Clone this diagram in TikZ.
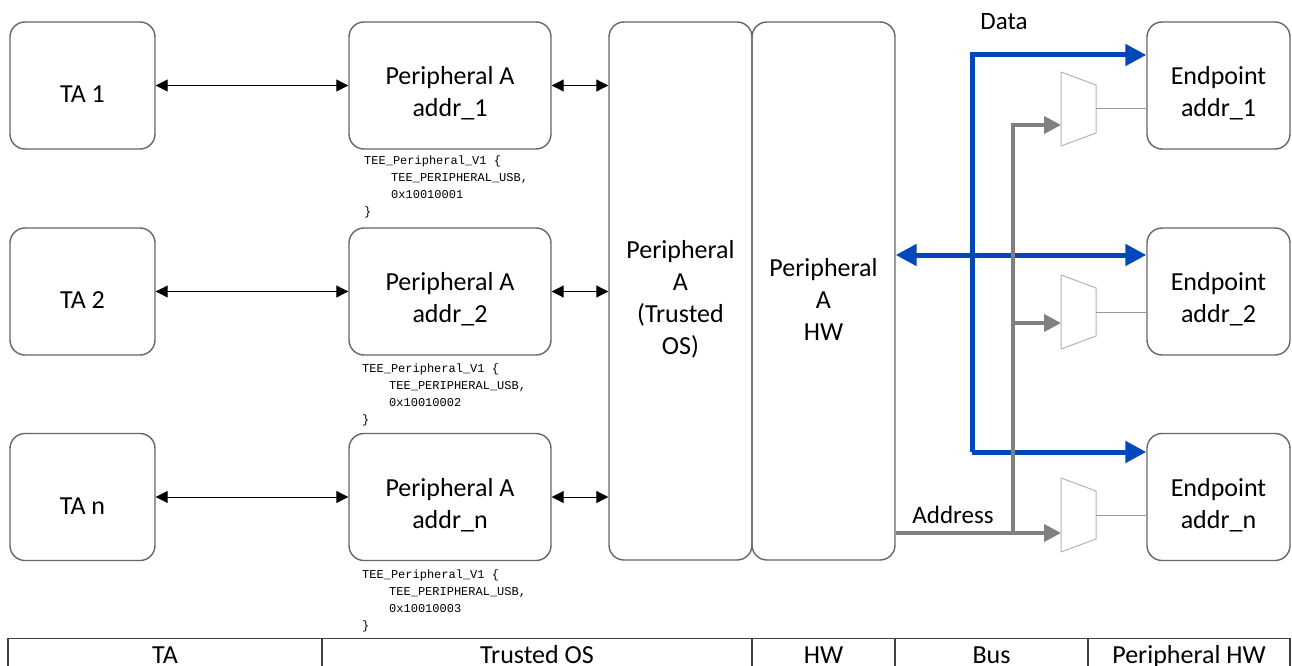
\documentclass[tikz,border=0pt]{standalone}
\usepackage{fontspec}
\setmainfont{Carlito}
\newfontfamily\codefont{Liberation Mono}
\usetikzlibrary{arrows.meta}
\definecolor{boxgray}{HTML}{666666}
\definecolor{databl}{HTML}{0047BB}
\definecolor{addrgray}{HTML}{808080}
\definecolor{muxgray}{HTML}{B4B4B4}
\newcommand\dnstrut{\rule{0pt}{34pt}}
\begin{document}
\begin{tikzpicture}[x=1pt,y=-1pt,
  box/.style={draw=boxgray, line width=1.4pt, rounded corners=15pt, align=center,
    inner sep=0pt, font=\fontsize{26}{32}\selectfont},
  smallbox/.style={box, minimum height=127pt},
  codeblk/.style={anchor=north west, inner sep=0pt, align=left,
    font=\codefont\fontsize{12}{16.8}\selectfont},
  biarrow/.style={line width=1pt, {Triangle[length=12pt,width=12pt]}-{Triangle[length=12pt,width=12pt]}},
  datatip/.style={-{Triangle[length=21pt,width=21pt]}},
  databus/.style={draw=databl, line width=5pt},
  addrbus/.style={draw=addrgray, line width=4pt},
  addrtip/.style={-{Triangle[length=17pt,width=17pt]}},
  muxline/.style={draw=muxgray, line width=1pt},
  buslabel/.style={font=\fontsize{25}{30}\selectfont, inner sep=0pt},
  tbltext/.style={font=\fontsize{26}{30}\selectfont, anchor=base, inner sep=0pt},
  tblline/.style={draw=black!75, line width=1.4pt},
  mux/.pic={
    \draw[muxline] (-17.5,-37) -- (17.5,-24) -- (17.5,24) -- (-17.5,37) -- cycle;
    \coordinate (-w) at (-17.5,0);
    \coordinate (-e) at (17.5,0);
  }]
\useasboundingbox (0,0) rectangle (1292,666);

% TA boxes
\node[smallbox, minimum width=145pt] (ta1) at (82.5,85.5) {\dnstrut TA 1};
\node[smallbox, minimum width=145pt] (ta2) at (82.5,291.5) {\dnstrut TA 2};
\node[smallbox, minimum width=145pt] (ta3) at (82.5,497) {\dnstrut TA n};

% Peripheral A boxes
\node[smallbox, minimum width=202pt] (pa1) at (450,85.5) {\dnstrut Peripheral A\\addr\_1};
\node[smallbox, minimum width=202pt] (pa2) at (450,291.5) {\dnstrut Peripheral A\\addr\_2};
\node[smallbox, minimum width=202pt] (pa3) at (450,497) {\dnstrut Peripheral A\\addr\_n};

% Tall boxes
\node[box, minimum width=143pt, minimum height=538pt] (tos) at (680.5,291) {\dnstrut Peripheral\\A\\(Trusted\\OS)};
\node[box, minimum width=143pt, minimum height=538pt] (hw) at (823.5,291) {\dnstrut Peripheral\\A\\HW};

% Endpoints
\node[smallbox, minimum width=143pt] (ep1) at (1218.5,85.5) {\dnstrut Endpoint\\addr\_1};
\node[smallbox, minimum width=143pt] (ep2) at (1218.5,291.5) {\dnstrut Endpoint\\addr\_2};
\node[smallbox, minimum width=143pt] (ep3) at (1218.5,497) {\dnstrut Endpoint\\addr\_n};

% code blocks
\node[codeblk] (c1) at (364,156) {TEE\_Peripheral\_V1 \{\\\hspace*{27pt}TEE\_PERIPHERAL\_USB,\\\hspace*{27pt}0x10010001\\\}};
\node[codeblk] (c2) at (362,364) {TEE\_Peripheral\_V1 \{\\\hspace*{27pt}TEE\_PERIPHERAL\_USB,\\\hspace*{27pt}0x10010002\\\}};
\node[codeblk] (c3) at (362,570) {TEE\_Peripheral\_V1 \{\\\hspace*{27pt}TEE\_PERIPHERAL\_USB,\\\hspace*{27pt}0x10010003\\\}};

% TA <-> Peripheral arrows
\draw[biarrow] (ta1.east) -- (pa1.west);
\draw[biarrow] (ta2.east) -- (pa2.west);
\draw[biarrow] (ta3.east) -- (pa3.west);
\draw[biarrow] (pa1.east) -- (tos.west |- pa1.east);
\draw[biarrow] (pa2.east) -- (tos.west |- pa2.east);
\draw[biarrow] (pa3.east) -- (tos.west |- pa3.east);

% muxes
\pic (m1) at (1078.5,109) {mux};
\pic (m2) at (1078.5,312) {mux};
\pic (m3) at (1078.5,515) {mux};
\draw[draw=addrgray!80, line width=1pt] (m1-e) -- (ep1.west |- m1-e);
\draw[draw=addrgray!80, line width=1pt] (m2-e) -- (ep2.west |- m2-e);
\draw[draw=addrgray!80, line width=1pt] (m3-e) -- (ep3.west |- m3-e);

% Data bus
\coordinate (dtop) at (972,55);
\coordinate (dbot) at (972,452);
\coordinate (dmid) at (972,255);
\draw[databus, datatip] (dbot) -- (dtop) -- (ep1.west |- dtop);
\draw[databus, datatip] (dbot) -- (ep3.west |- dbot);
\draw[databus, {Triangle[length=21pt,width=21pt]}-{Triangle[length=21pt,width=21pt]}] (hw.east |- dmid) -- (ep2.west |- dmid);
\node[buslabel] (datalbl) at (1004,22) {Data};

% Address bus
\coordinate (abot) at (1013,533);
\coordinate (atop) at (1013,125);
\coordinate (amid) at (1013,323);
\draw[addrbus, addrtip] (hw.east |- abot) -- (m3-w |- abot);
\draw[addrbus, addrtip] (abot) -- (atop) -- (m1-w |- atop);
\draw[addrbus, addrtip] (amid) -- (m2-w |- amid);
\node[buslabel] (addrlbl) at (953,515) {Address};

% bottom legend
\draw[tblline] (8,668) -- (8,638.5) -- (1290,638.5) -- (1290,668);
\draw[tblline] (322,638.5) -- (322,668);
\draw[tblline] (752,638.5) -- (752,668);
\draw[tblline] (895,638.5) -- (895,668);
\draw[tblline] (1088,638.5) -- (1088,668);
\node[tbltext] (lta) at (165,663) {TA};
\node[tbltext] (los) at (537,663) {Trusted OS};
\node[tbltext] (lhw) at (823.5,663) {HW};
\node[tbltext] (lbus) at (991.5,663) {Bus};
\node[tbltext] (lphw) at (1189,663) {Peripheral HW};
\end{tikzpicture}
\end{document}
